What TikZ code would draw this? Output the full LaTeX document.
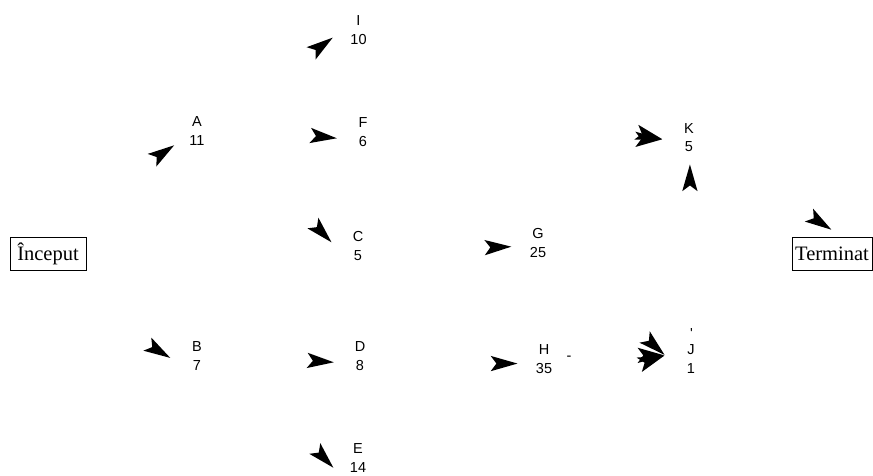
\documentclass[tikz,border=0pt]{standalone}
\usepackage{fontspec}
\setmainfont{Liberation Serif}
\newfontfamily\labfont{Liberation Sans}
\usetikzlibrary{arrows.meta}
\begin{document}
\begin{tikzpicture}[x=1pt,y=1pt,
  task/.style={circle,draw=none,minimum size=52pt,inner sep=0pt,align=center,
    font=\labfont\fontsize{14.5}{18.5}\selectfont},
  endbox/.style={draw,line width=0.8pt,minimum width=76pt,minimum height=33pt,inner sep=0pt,
    font=\fontsize{20.5}{22}\selectfont},
  smallmark/.style={inner sep=0pt,font=\labfont\fontsize{14.5}{18.5}\selectfont},
  edge/.style={draw opacity=0,line width=0.4pt,
    -{Stealth[length=28pt,width=16pt,inset=6pt,color=black]}}]
\useasboundingbox (0,0) rectangle (873,-475);

\node[endbox] (Inc) at (48,-254) {Început};
\node[endbox,minimum width=80pt] (Term) at (832,-254) {Terminat};
\node[task] (A) at (197,-131) {A\\11};
\node[task] (I) at (358.5,-30) {I\\10};
\node[task] (F) at (363,-132) {F\\6};
\node[task] (C) at (358,-246) {C\\5};
\node[task] (B) at (197,-356) {B\\7};
\node[task] (D) at (360,-356) {D\\8};
\node[task] (E) at (358,-458) {E\\14};
\node[task] (G) at (538,-243) {G\\25};
\node[task] (H) at (544,-359) {H\\35};
\node[task] (K) at (689,-137.5) {K\\5};
\node[task] (J) at (691,-359) {J\\1};
\node[smallmark] (dash) at (569,-358) {-};
\node[smallmark] (tick) at (691.5,-334) {\char39};

\draw[edge] (Inc) to[out=40,in=214] (A.212);
\draw[edge] (Inc) to[out=-30,in=149] (B.185);
\draw[edge] (A) to[out=40,in=216] (I.196);
\draw[edge] (A) to[out=0,in=174] (F.194);
\draw[edge] (A) to[out=-40,in=134] (C.173);
\draw[edge] (B) to[out=0,in=176] (D.194);
\draw[edge] (B) to[out=-40,in=134] (E.203);
\draw[edge] (C) to[out=0,in=182] (G.188);
\draw[edge] (D) to[out=0,in=180] (H.190);
\draw[edge] (I) to[out=-10,in=165] (K.184);
\draw[edge] (F) to[out=0,in=180] (K.184);
\draw[edge] (J) to[out=90,in=270] (K.272);
\draw[edge] (G) to[out=-30,in=138] (J.172);
\draw[edge] (H) to[out=0,in=180] (J.172);
\draw[edge] (E) to[out=20,in=200] (J.172);
\draw[edge] (K) to[out=-30,in=147] ([yshift=7pt]Term.north);
\end{tikzpicture}
\end{document}
